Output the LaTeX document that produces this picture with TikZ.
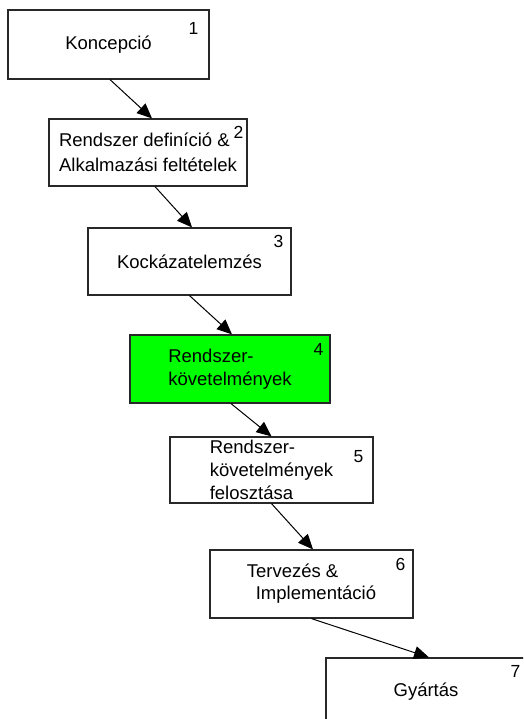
\documentclass[tikz,border=0pt]{standalone}
\usepackage{fontspec}
\setmainfont{Liberation Sans}
\usetikzlibrary{arrows.meta}
\definecolor{green1}	{RGB}{0,255,0}
\definecolor{frame1}	{RGB}{40,40,40}
\tikzstyle{stage}=	[draw=frame1, line width=1.2pt, fill=white, inner sep=0pt, minimum width=202pt, minimum height=67pt, align=left, font=\fontsize{18.5}{23}\selectfont]
\tikzstyle{chosen}=	[stage, fill=green1]
\tikzstyle{num}=	[anchor=base east, inner sep=0pt, font=\fontsize{17.5}{20}\selectfont]
\tikzstyle{flow}=	[draw=black, line width=1pt, -{Triangle[length=15pt, width=13pt]}]

\begin{document}
\begin{tikzpicture}[x=1pt, y=-1pt]

	\useasboundingbox (0,0) rectangle (523,719);
	\clip (0,0) rectangle (523,719);

	%%% stages
	% boxes and numbers
	\node[stage, minimum width=201pt, minimum height=69pt] (b1) at (108.5,44.5) {Koncepció};
	\node[num] (n1) at ([xshift=-11pt, yshift=-25pt]b1.north east) {1};

	\node[stage, minimum width=198pt, font=\fontsize{18.5}{25}\selectfont] (b2) at (148,152.5) {Rendszer definíció \&\\Alkalmazási feltételek};
	\node[num] (n2) at ([xshift=-4pt, yshift=-20pt]b2.north east) {2};

	\node[stage, minimum width=203pt] (b3) at (189.5,261.5) {Kockázatelemzés};
	\node[num] (n3) at ([xshift=-8pt, yshift=-20pt]b3.north east) {3};

	\node[chosen, minimum width=200pt, minimum height=68pt] (b4) at (230,369) {Rendszer-\\követelmények};
	\node[num] (n4) at ([xshift=-7pt, yshift=-21pt]b4.north east) {4};

	\node[stage, minimum width=203pt, minimum height=66pt] (b5) at (271.5,470) {Rendszer-\\követelmények\\felosztása};
	\node[num] (n5) at ([xshift=-10pt, yshift=-26pt]b5.north east) {5};

	\node[stage, minimum width=203pt, minimum height=68pt, font=\fontsize{18.5}{22}\selectfont] (b6) at (311.5,584) {Tervezés \&\\\hspace*{9pt}Implementáció};
	\node[num] (n6) at ([xshift=-8pt, yshift=-21pt]b6.north east) {6};

	\node[stage, minimum width=200pt, minimum height=68pt] (b7) at (426,692) {Gyártás};
	\node[num] (n7) at ([xshift=-6pt, yshift=-20pt]b7.north east) {7};

	% arrows
	\draw[flow] ([xshift=1.5pt]b1.south) -- ([xshift=4pt]b2.north);
	\draw[flow] ([xshift=7pt]b2.south) -- ([xshift=2.5pt]b3.north);
	\draw[flow] (b3.south) -- ([xshift=2pt]b4.north);
	\draw[flow] ([xshift=1pt]b4.south) -- (b5.north);
	\draw[flow] (b5.south) -- ([xshift=1.5pt]b6.north);
	\draw[flow] (b6.south) -- ([xshift=3pt]b7.north);

\end{tikzpicture}
\end{document}
